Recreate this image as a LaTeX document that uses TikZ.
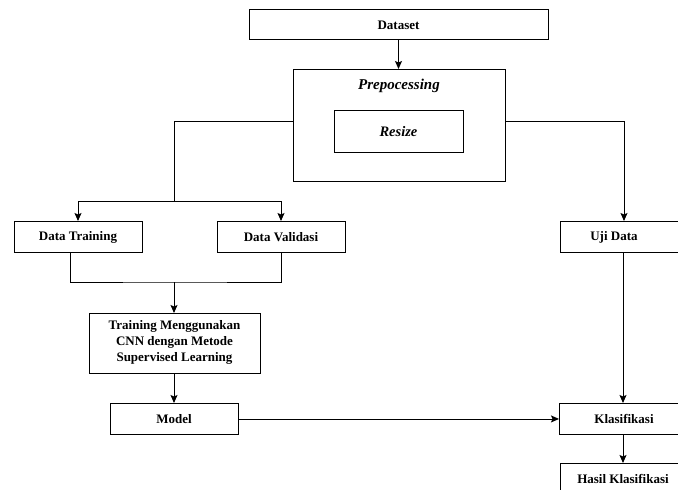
\documentclass[tikz,border=0pt]{standalone}
\usepackage{fontspec}
\setmainfont{Liberation Serif}
\usetikzlibrary{arrows.meta}
\tikzset{
  box/.style={draw, line width=0.9pt, inner sep=0pt, anchor=north west},
  lbl/.style={inner sep=0pt, font=\fontsize{13}{16}\selectfont\bfseries, align=center},
  conn/.style={line width=0.9pt},
  arr/.style={line width=0.9pt, -{Stealth[length=8pt,width=7pt,inset=1.5pt]}}
}
\begin{document}
\begin{tikzpicture}[x=1pt,y=-1pt]
\useasboundingbox (0,0) rectangle (678,490);
\clip (0,0) rectangle (678,490);
% boxes
\node[box, minimum width=299pt, minimum height=30pt] (ds) at (249,9) {};
\node[lbl] (dsl) at (398.5,25) {Dataset};
\node[box, minimum width=212pt, minimum height=112pt] (prep) at (293,69) {};
\node[lbl, font=\fontsize{15}{18}\selectfont\bfseries\itshape] (prepl) at (399,86) {Prepocessing};
\node[box, minimum width=129pt, minimum height=42pt] (rs) at (334,110) {};
\node[lbl, font=\fontsize{14.5}{17}\selectfont\bfseries\itshape] (rsl) at (398.5,132) {Resize};
\node[box, minimum width=128pt, minimum height=31pt] (dt) at (14,221) {};
\node[lbl] (dtl) at (78,237) {Data Training};
\node[box, minimum width=128pt, minimum height=31pt] (dv) at (217,221) {};
\node[lbl] (dvl) at (281,237) {Data Validasi};
\node[box, minimum width=140pt, minimum height=31pt] (uj) at (560,221) {};
\node[lbl] (ujl) at (614,237) {Uji Data};
\node[box, minimum width=171pt, minimum height=60pt] (tr) at (89,313) {};
\node[lbl] (trl) at (174.5,342) {Training Menggunakan\\CNN dengan Metode\\Supervised Learning};
\node[box, minimum width=128pt, minimum height=31pt] (md) at (110,403) {};
\node[lbl] (mdl) at (174,419) {Model};
\node[box, minimum width=141pt, minimum height=31pt] (kl) at (559,403) {};
\node[lbl] (kll) at (624,419) {Klasifikasi};
\node[box, minimum width=140pt, minimum height=50pt] (hk) at (560,463) {};
\node[lbl] (hkl) at (623,479) {Hasil Klasifikasi};
% junction coordinates
\coordinate (jl) at (174,201);
\coordinate (jb) at (174,282);
\coordinate (ux) at (624,0);
% connectors
\draw[arr] (ds.south -| dsl) -- (prep.north -| dsl);
\draw[conn] ([yshift=4pt]prep.west) -| (jl);
\draw[arr] (jl) -| (dt.north -| dtl);
\draw[arr] (jl) -| (dv.north -| dvl);
\draw[arr] ([yshift=4pt]prep.east) -| (uj.north -| ux);
\draw[conn] ([xshift=-8pt]dt.south -| dtl) |- (jb) -| (dv.south -| dvl);
\draw[arr] (jb) -- (tr.north -| jb);
\draw[arr] (tr.south -| mdl) -- (md.north -| mdl);
\draw[arr] (md.east) -- (kl.west);
\draw[arr] ([xshift=-1pt]uj.south -| ux) -- ([xshift=-1pt]kl.north -| ux);
\draw[arr] ([xshift=-1pt]kl.south -| ux) -- ([xshift=-1pt]hk.north -| ux);
\end{tikzpicture}
\end{document}
